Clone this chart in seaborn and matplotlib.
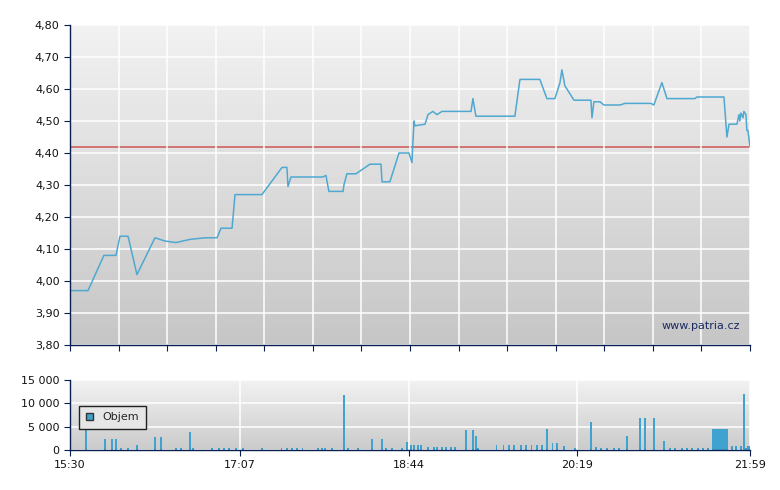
import numpy as np
import pandas as pd
import matplotlib
matplotlib.use('Agg')
import matplotlib.pyplot as plt
import seaborn as sns
from matplotlib.ticker import FuncFormatter

# minutes after 15:30
price_t = [0, 10.3, 19.4, 26.3, 28.6, 33.2, 38.3, 48.6, 54.3, 60.6, 68.6, 77.2, 84.1, 86.4, 92.7,
           94.4, 109.8, 121.3, 124.1, 124.7, 126.4, 144.7, 146.4, 148.1, 156.2, 156.7, 158.4, 163.6,
           171.6, 177.9, 178.5, 183, 188.2, 193.9, 195.6, 196.8, 197.3, 203.1, 204.8, 207.6, 209.9,
           212.8, 229.4, 230.5, 232.2, 254.5, 257.4, 268.8, 272.8, 277.4, 280.3, 281.4, 283.1, 288.3,
           298, 298.6, 299.7, 303.2, 305.4, 314.6, 317.5, 332.3, 334, 338.6, 341.5, 357.5, 358.6,
           374.1, 375.8, 377, 381.5, 382.7, 383.2, 383.8, 385, 385.5, 386.7, 387.2, 387.8, 389]
price = [3.97, 3.97, 4.08, 4.08, 4.14, 4.14, 4.02, 4.135, 4.125, 4.12, 4.13, 4.135, 4.135, 4.165, 4.165,
         4.27, 4.27, 4.355, 4.355, 4.295, 4.325, 4.325, 4.33, 4.28, 4.28, 4.30, 4.335, 4.335,
         4.365, 4.365, 4.31, 4.31, 4.40, 4.40, 4.37, 4.50, 4.485, 4.49, 4.52, 4.53, 4.52,
         4.53, 4.53, 4.57, 4.515, 4.515, 4.63, 4.63, 4.57, 4.57, 4.62, 4.66, 4.61, 4.565,
         4.565, 4.51, 4.56, 4.56, 4.55, 4.55, 4.555, 4.555, 4.55, 4.62, 4.57, 4.57, 4.575,
         4.575, 4.45, 4.49, 4.49, 4.52, 4.50, 4.525, 4.51, 4.53, 4.52, 4.47, 4.47, 4.42]
ref_price = 4.42

vol_t = [9.2, 20, 24, 26.3, 29.2, 33.2, 38.3, 48.6, 52, 60.6, 63.5, 68.6, 70.4,
         81, 85, 88, 91, 95, 99, 110, 121, 124, 127, 130, 133, 142, 144, 146, 150,
         157, 159, 165, 173, 178.5, 181, 184, 190, 193, 195, 197, 199, 201,
         205, 208, 210, 213, 215, 218, 220, 226.5, 230.5, 232, 233.4,
         244, 248, 251, 254, 258, 261, 264, 267, 270, 273, 276, 278.6, 282.6, 289,
         298, 301, 304, 307, 311, 314, 318.6, 326, 329, 334, 340,
         343, 346, 350, 353, 356, 359, 362, 365,
         368, 369, 370, 371, 372, 373, 374, 375, 376, 378.6, 381, 384, 385.5, 386.7, 388, 389]
vol = [4600, 2400, 2400, 2400, 500, 500, 1100, 2800, 2800, 500, 500, 3800, 500,
       500, 500, 500, 500, 500, 500, 500, 500, 500, 500, 500, 500, 500, 500, 500, 500,
       11800, 500, 500, 2300, 2300, 500, 500, 500, 1800, 1000, 1000, 1000, 1000,
       700, 700, 700, 700, 700, 700, 700, 4200, 4200, 2900, 500,
       1000, 1000, 1000, 1000, 1000, 1000, 1000, 1000, 1000, 4600, 1400, 1400, 800, 500,
       6100, 600, 500, 500, 500, 500, 3100, 6900, 6900, 6900, 2000,
       500, 500, 500, 500, 500, 500, 500, 500,
       4600, 4600, 4600, 4600, 4600, 4600, 4600, 4600, 4600, 900, 900, 900, 12000, 500, 900, 900]

time_labels = ['15:30', '17:07', '18:44', '20:19', '21:59']
time_pos = [0, 97, 194, 290, 389]

sns.set_style('white')
plt.rcParams['font.family'] = ['DejaVu Sans']
line_c = '#4fa8d0'
bar_c = '#3fa2cf'
navy = '#0a1e50'

df = pd.DataFrame({'t': price_t, 'p': price})
fig = plt.figure(figsize=(7.8, 4.9), dpi=100)
ax = fig.add_axes([70/780, 1-345/490, 680/780, 320/490])
ax2 = fig.add_axes([70/780, 1-450/490, 680/780, 70/490])


def gradient(a, top, bot):
    g = np.linspace(0, 1, 256).reshape(-1, 1)
    cm = matplotlib.colors.LinearSegmentedColormap.from_list('g', [top, bot])
    a.imshow(g, aspect='auto', cmap=cm, extent=[0, 1, 0, 1], transform=a.transAxes, zorder=0)


gradient(ax, '#f2f2f2', '#c6c6c6')
gradient(ax2, '#f2f2f2', '#cbcbcb')

sns.lineplot(data=df, x='t', y='p', ax=ax, color=line_c, lw=1.1, zorder=3)
ax.axhline(ref_price, color='#d06060', lw=1.2, zorder=2)
ax.set_xlim(0, 389)
ax.set_ylim(3.8, 4.8)
ax.set_yticks(np.arange(3.8, 4.81, 0.1))
ax.yaxis.set_major_formatter(FuncFormatter(lambda v, p: f'{v:.2f}'.replace('.', ',')))
ax.set_xticks(np.linspace(0, 389, 15))
ax.set_xticklabels([])
ax.grid(True, color='white', lw=1.1, zorder=1)
ax.set_axisbelow(False)
ax.set_xlabel('')
ax.set_ylabel('')
ax.text(0.985, 0.05, 'www.patria.cz', transform=ax.transAxes, ha='right', fontsize=8, color='#1a2a60')

ax2.bar(vol_t, vol, width=1.1, color=bar_c, edgecolor='none', linewidth=0, zorder=3)
ax2.set_xlim(0, 389)
ax2.set_ylim(0, 15000)
ax2.set_yticks([0, 5000, 10000, 15000])
ax2.yaxis.set_major_formatter(FuncFormatter(lambda v, p: f'{int(v):,}'.replace(',', ' ')))
ax2.set_xticks(time_pos)
ax2.set_xticklabels(time_labels)
ax2.grid(True, color='white', lw=1.1, zorder=1)
leg = ax2.legend(handles=[matplotlib.patches.Patch(facecolor=bar_c, edgecolor='#333333', label='Objem')],
                 loc='lower left', bbox_to_anchor=(0.005, 0.22), fontsize=8, fancybox=False,
                 handlelength=0.7, handleheight=0.7, borderpad=0.6, framealpha=1)
leg.get_frame().set_edgecolor('#222222')
leg.get_frame().set_facecolor('#e6e6e6')

for a in (ax, ax2):
    for s in ('top', 'right'):
        a.spines[s].set_visible(False)
    for s in ('left', 'bottom'):
        a.spines[s].set_color(navy)
        a.spines[s].set_linewidth(1)
        a.spines[s].set_zorder(10)
    a.tick_params(axis='both', direction='out', length=4, color=navy, labelsize=8, labelcolor='#111111',
                  left=True, bottom=True)

fig.savefig('out.png', dpi=100)
